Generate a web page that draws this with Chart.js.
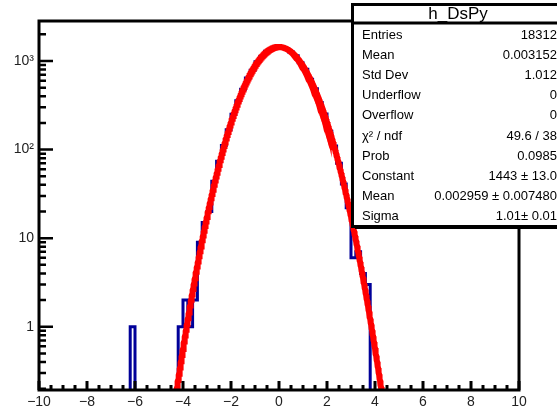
<!DOCTYPE html>
<html>
<head>
<meta charset="utf-8">
<script src="https://cdn.jsdelivr.net/npm/chart.js@4.4.1/dist/chart.umd.min.js"></script>
<style>
  html, body { margin: 0; padding: 0; background: #fff; }
  canvas { display: block; }
</style>
</head>
<body>
<canvas id="c" width="557" height="408"></canvas>
<script>
// Histogram h_DsPy: 100 bins of width 0.2 between -10 and 10
const histName = 'h_DsPy';
const histLow = -10;
const histHigh = 10;
const binCounts = [
  0, 0, 0, 0, 0, 0, 0, 0, 0, 0,
  0, 0, 0, 0, 0, 0, 0, 0, 0, 1,
  0, 0, 0, 0, 0, 0, 0, 0, 0, 1,
  2, 1, 2, 9, 15, 20, 44, 74, 111, 168,
  251, 357, 480, 643, 786, 981, 1122, 1290, 1369, 1443,
  1453, 1388, 1262, 1147, 957, 809, 622, 487, 341, 252,
  161, 110, 70, 41, 22, 6, 7, 4, 3, 0,
  0, 0, 0, 0, 0, 0, 0, 0, 0, 0,
  0, 0, 0, 0, 0, 0, 0, 0, 0, 0,
  0, 0, 0, 0, 0, 0, 0, 0, 0, 0
];

// Gaussian fit result
const fitConstant = 1443;
const fitMean = 0.002959;
const fitSigma = 1.01;

// Axis ranges and ticks
const yMin = 0.193;
const yMax = 2830;
const xTickValues = [-10, -8, -6, -4, -2, 0, 2, 4, 6, 8, 10];
const yTickValues = [1, 10, 100, 1000];
const yTickLabels = ['1', '10', '10\u00B2', '10\u00B3'];

// Statistics box rows
const statLabels = ['Entries', 'Mean', 'Std Dev', 'Underflow', 'Overflow',
  '\u03C7\u00B2 / ndf', 'Prob', 'Constant', 'Mean', 'Sigma'];
const statValues = ['18312', '0.003152', '1.012', '0', '0',
  '49.6 / 38', '0.0985', '1443 \u00B1 13.0', '0.002959 \u00B1 0.007480', '1.01\u00B1 0.01'];

// Step outline of the histogram; empty bins fall to below the axis floor
const binWidth = (histHigh - histLow) / binCounts.length;
const floorValue = yMin / 3;
const stepPoints = [];
binCounts.forEach((n, i) => {
  const lo = histLow + i * binWidth;
  const v = n > 0 ? n : floorValue;
  stepPoints.push({ x: lo, y: v }, { x: lo + binWidth, y: v });
});

// Fitted gaussian sampled finely over the histogram range
const fitPoints = [];
for (let k = 0; k <= 2000; k++) {
  const x = histLow + k * (histHigh - histLow) / 2000;
  const t = (x - fitMean) / fitSigma;
  fitPoints.push({ x, y: fitConstant * Math.exp(-0.5 * t * t) });
}

const FONT = "'Liberation Sans', Arial, Helvetica, sans-serif";

// Frame with inward ticks, drawn over the histogram
const framePlugin = {
  id: 'frame',
  afterDatasetsDraw(chart) {
    const { ctx, chartArea: a, scales: { x, y } } = chart;
    ctx.save();
    ctx.strokeStyle = '#000';
    ctx.lineWidth = 3;
    ctx.strokeRect(a.left, a.top, a.right - a.left, a.bottom - a.top);
    ctx.beginPath();
    for (let v = histLow; v <= histHigh + 1e-9; v += 0.5) {
      const px = x.getPixelForValue(v);
      const major = Math.abs(v / 2 - Math.round(v / 2)) < 1e-6;
      ctx.moveTo(px, a.bottom);
      ctx.lineTo(px, a.bottom - (major ? 9 : 5));
    }
    ctx.stroke();
    ctx.lineWidth = 2.5;
    ctx.beginPath();
    for (let e = -1; e <= 3; e++) {
      for (let m = 1; m <= 9; m++) {
        const v = m * Math.pow(10, e);
        if (v < yMin || v > yMax) continue;
        const py = y.getPixelForValue(v);
        ctx.moveTo(a.left, py);
        ctx.lineTo(a.left + (m === 1 ? 14 : 7), py);
      }
    }
    ctx.stroke();
    ctx.restore();
  }
};

// Statistics box in the upper right corner
const statsPlugin = {
  id: 'stats',
  afterDraw(chart) {
    const ctx = chart.ctx;
    const left = 352, top = 4, right = 582, bottom = 226;
    ctx.save();
    ctx.fillStyle = '#fff';
    ctx.fillRect(left, top, right - left, bottom - top);
    ctx.fillStyle = '#000';
    ctx.fillRect(left + 3, bottom, right - left, 3);
    ctx.strokeStyle = '#000';
    ctx.lineWidth = 3;
    ctx.strokeRect(left + 0.5, top + 0.5, right - left, bottom - top);
    ctx.beginPath();
    ctx.moveTo(left, 23);
    ctx.lineTo(right, 23);
    ctx.stroke();

    ctx.fillStyle = '#000';
    ctx.textBaseline = 'middle';
    ctx.font = '17px ' + FONT;
    ctx.textAlign = 'center';
    ctx.fillText(histName, 458, 14);

    ctx.font = '13px ' + FONT;
    statLabels.forEach((lab, i) => {
      const yy = 35.5 + i * 20.1;
      ctx.textAlign = 'left';
      ctx.fillText(lab, 362, yy);
      ctx.textAlign = 'right';
      ctx.fillText(statValues[i], 557, yy);
    });
    ctx.restore();
  }
};

Chart.defaults.font.family = FONT;
Chart.defaults.color = '#222';

new Chart(document.getElementById('c'), {
  type: 'line',
  data: {
    datasets: [
      {
        label: histName,
        data: stepPoints,
        borderColor: '#000099',
        borderWidth: 3,
        pointRadius: 0,
        fill: false,
        tension: 0,
        order: 2
      },
      {
        label: 'gaus',
        data: fitPoints,
        borderColor: '#ff0000',
        borderWidth: 6,
        pointRadius: 0,
        fill: false,
        tension: 0,
        order: 1
      }
    ]
  },
  options: {
    responsive: false,
    animation: false,
    events: [],
    layout: { padding: { top: 21, right: 38, left: 0, bottom: 0 } },
    plugins: { legend: { display: false }, tooltip: { enabled: false } },
    scales: {
      x: {
        type: 'linear',
        min: histLow,
        max: histHigh,
        grid: { display: false, drawTicks: false },
        border: { display: false },
        afterBuildTicks(scale) {
          scale.ticks = xTickValues.map(v => ({ value: v }));
        },
        afterFit(scale) { scale.height = 18; },
        ticks: {
          padding: 4,
          maxRotation: 0,
          autoSkip: false,
          font: { size: 14 },
          callback: v => (v < 0 ? '\u2212' + Math.abs(v) : String(v))
        }
      },
      y: {
        type: 'logarithmic',
        min: yMin,
        max: yMax,
        grid: { display: false, drawTicks: false },
        border: { display: false },
        afterBuildTicks(scale) {
          scale.ticks = yTickValues.map(v => ({ value: v }));
        },
        afterFit(scale) { scale.width = 39; },
        ticks: {
          padding: 5,
          autoSkip: false,
          font: { size: 14 },
          callback: v => {
            const i = yTickValues.indexOf(v);
            return i >= 0 ? yTickLabels[i] : '';
          }
        }
      }
    }
  },
  plugins: [framePlugin, statsPlugin]
});
</script>
</body>
</html>
